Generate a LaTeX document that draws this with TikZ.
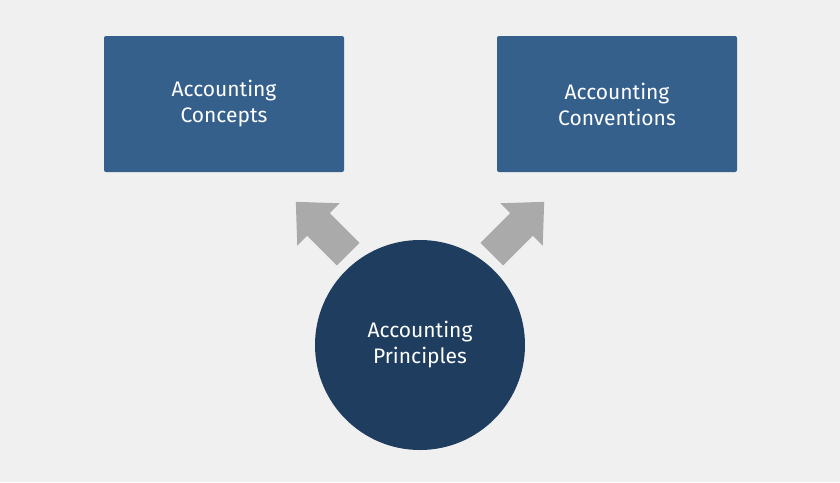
\documentclass[tikz,border=0pt]{standalone}
\usepackage{fontspec}
\setmainfont{Fira Sans}
\definecolor{bg}{HTML}{F0F0F0}
\definecolor{boxc}{HTML}{36608C}
\definecolor{circc}{HTML}{1E3D5F}
\definecolor{arr}{HTML}{AAAAAA}
\begin{document}
\begin{tikzpicture}[x=1pt,y=-1pt,
  box/.style={fill=boxc,draw=none,rounded corners=2pt,minimum width=240pt,minimum height=136pt,text=white,font=\fontsize{21}{26}\selectfont,align=center,inner sep=0pt},
  blockarrow/.pic={\fill[arr] (-37,-16)--(5,-16)--(5,-30)--(37,0)--(5,30)--(5,16)--(-37,16)--cycle;}]
\fill[bg] (0,0) rectangle (840,482);
\useasboundingbox (0,0) rectangle (840,482);
\node[box] (a) at (224,104) {Accounting\\Concepts};
\node[box] (b) at (617,104) {Accounting\\Conventions};
\node[circle,fill=circc,minimum size=210pt,inner sep=0pt,text=white,font=\fontsize{21}{26}\selectfont,align=center] (c) at (420,345) {Accounting\\Principles};
\pic[rotate=135] at (322,228) {blockarrow};
\pic[rotate=45] at (518,228) {blockarrow};
\end{tikzpicture}
\end{document}
